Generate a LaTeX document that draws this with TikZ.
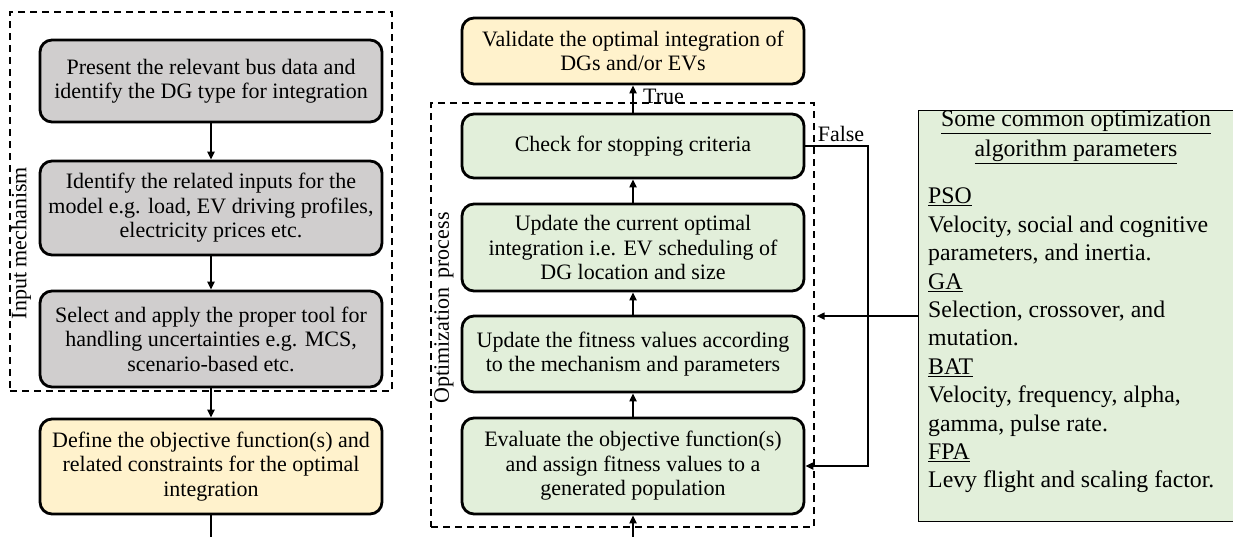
\documentclass[tikz,border=0pt]{standalone}
\usepackage{fontspec}
\setmainfont{Liberation Serif}
\usetikzlibrary{arrows.meta}
\definecolor{grayfill}{HTML}{D0CECE}
\definecolor{yellowfill}{HTML}{FFF2CC}
\definecolor{greenfill}{HTML}{E2EFDA}
\begin{document}
\begin{tikzpicture}[x=1pt,y=-1pt,
  box/.style={draw, line width=2.8pt, rounded corners=12pt, minimum width=342pt,
    align=center, inner sep=0pt, font=\fontsize{22}{24.5}\selectfont},
  arr/.style={-{Triangle[length=8pt,width=7pt]}, line width=2.4pt},
  plain/.style={line width=2.4pt},
  dashbox/.style={draw, line width=1.4pt, dash pattern=on 7pt off 5pt, inner sep=0pt},
  lbl/.style={font=\fontsize{22}{24}\selectfont, inner sep=0pt},
  side/.style={font=\fontsize{23.8}{28.4}\selectfont}
]
\useasboundingbox (0,0) rectangle (1233,536);
\clip (0,0) rectangle (1233,536);

% Input mechanism
\node[dashbox, minimum width=382pt, minimum height=379pt] (inp) at (201,201.5) {};
\node[lbl, rotate=90] (inpl) at (21,243) {Input mechanism};
\node[box, fill=grayfill, minimum height=82pt] (b1) at (211,81)
  {Present the relevant bus data and\\identify the DG type for integration};
\node[box, fill=grayfill, minimum height=94pt] (b2) at (211,208)
  {Identify the related inputs for the\\model e.g. load, EV driving profiles,\\electricity prices etc.};
\node[box, fill=grayfill, minimum height=96pt] (b3) at (211,339)
  {Select and apply the proper tool for\\handling uncertainties e.g. MCS,\\scenario-based etc.};
\node[box, fill=yellowfill, minimum height=95pt] (b4) at (211,466.5)
  {Define the objective function(s) and\\related constraints for the optimal\\integration};
\coordinate (b4out) at (211,545);
\draw[arr] (b1) -- (b2);
\draw[arr] (b2) -- (b3);
\draw[arr] (b3) -- (b4);
\draw[plain] (b4) -- (b4out);

% Optimization process
\node[dashbox, minimum width=383pt, minimum height=424pt] (opt) at (622.5,315) {};
\node[lbl, rotate=90] (optl) at (444,308) {Optimization\, process};
\node[box, fill=yellowfill, minimum height=66pt] (v) at (633,51)
  {Validate the optimal integration of\\DGs and/or EVs};
\node[box, fill=greenfill, minimum height=64pt] (c) at (633,146)
  {Check for stopping criteria};
\node[box, fill=greenfill, minimum height=87pt] (u1) at (633,247.5)
  {Update the current optimal\\integration i.e. EV scheduling of\\DG location and size};
\node[box, fill=greenfill, minimum height=76pt] (u2) at (633,354)
  {Update the fitness values according\\to the mechanism and parameters};
\node[box, fill=greenfill, minimum height=96pt] (e) at (633,466)
  {Evaluate the objective function(s)\\and assign fitness values to a\\generated population};
\coordinate (ein) at (633,545);
\draw[arr] (ein) -- (e);
\draw[arr] (e) -- (u2);
\draw[arr] (u2) -- (u1);
\draw[arr] (u1) -- (c);
\draw[arr] (c) -- (v);
\node[lbl, anchor=west] (tl) at (643,96) {True};
\draw[arr] (c.east) -- (868,146) |- (e.east);
\node[lbl] (fl) at (841,134) {False};

% Parameters panel
\node[draw, line width=1.2pt, fill=greenfill, minimum width=330pt, minimum height=411pt,
  anchor=north west, inner sep=0pt] (rp) at (918,110) {};
\draw[arr] (rp.west) -- ([xshift=2pt]rp.west -| opt.east);
\node[font=\fontsize{23.8}{30}\selectfont, align=center, inner sep=0pt] (rpt) at (1076,137)
  {\underline{Some common optimization}\\\underline{algorithm parameters}};
\node[side, align=left, anchor=north west, inner sep=0pt] (rpb) at (928,188)
  {\underline{PSO}\\Velocity, social and cognitive\\parameters, and inertia.\\\underline{GA}\\Selection, crossover, and\\mutation.\\\underline{BAT}\\Velocity, frequency, alpha,\\gamma, pulse rate.\\\underline{FPA}\\Levy flight and scaling factor.};
\end{tikzpicture}
\end{document}
